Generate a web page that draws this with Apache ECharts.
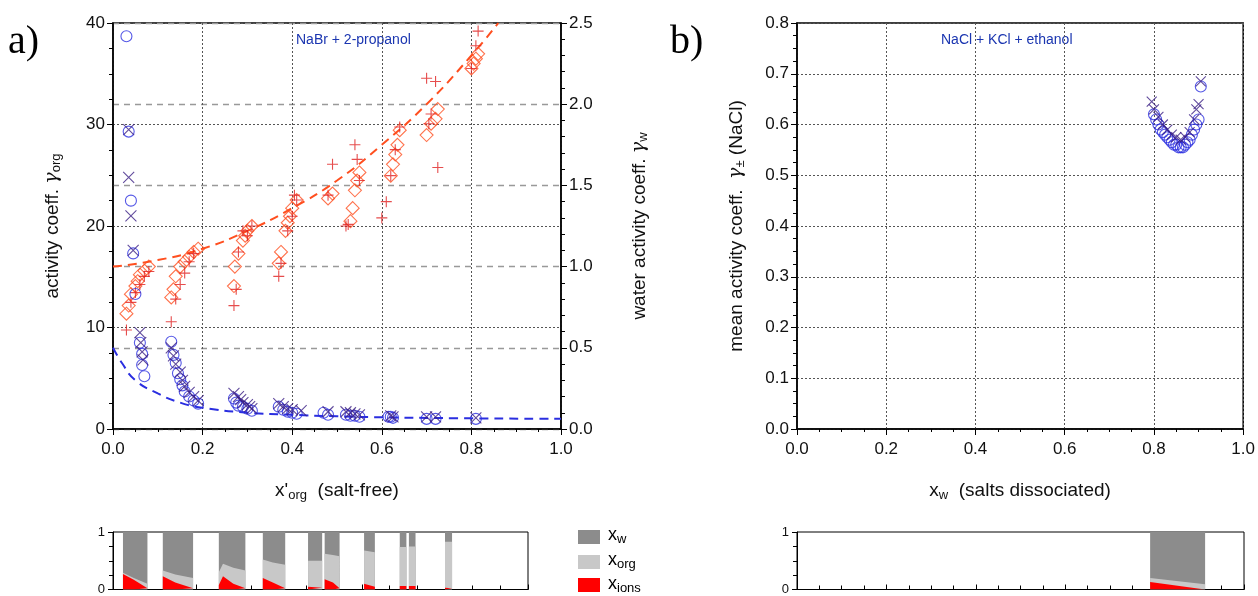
<!DOCTYPE html>
<html><head><meta charset="utf-8">
<script src="https://cdn.jsdelivr.net/npm/echarts@6/dist/echarts.min.js"></script>
<style>html,body{margin:0;padding:0;background:#fff}#c{width:1258px;height:596px}</style>
</head><body><div id="c"></div>
<script>
// ---------- data: panel a ----------
const orgCircles = [[0.03,38.7],[0.035,29.3],[0.04,22.5],[0.045,17.3],[0.05,13.3],[0.06,8.5],[0.065,7.4],[0.065,6.3],[0.07,5.2],
 [0.13,8.6],[0.135,7.3],[0.14,6.5],[0.145,5.5],[0.15,4.9],[0.155,4.3],[0.16,3.7],[0.17,3.2],[0.18,2.8],[0.19,2.5],
 [0.27,3.0],[0.275,2.6],[0.28,2.3],[0.29,2.2],[0.30,2.0],[0.31,1.8],[0.37,2.2],[0.38,1.9],[0.39,1.7],[0.40,1.6],[0.41,1.5],
 [0.47,1.6],[0.48,1.4],[0.52,1.4],[0.53,1.3],[0.54,1.3],[0.55,1.2],[0.615,1.2],[0.62,1.2],[0.625,1.1],[0.70,1.0],[0.72,1.0],[0.81,1.0]];
const orgCrosses = [[0.035,29.5],[0.035,24.8],[0.04,21],[0.045,17.6],[0.06,9.5],[0.062,8.5],[0.065,7.6],[0.067,6.8],
 [0.13,8],[0.135,7.2],[0.14,6.4],[0.15,5.6],[0.155,4.8],[0.16,4.2],[0.17,3.6],[0.18,3.2],[0.19,2.8],
 [0.27,3.5],[0.28,3.2],[0.285,2.9],[0.29,2.6],[0.30,2.4],[0.305,2.2],[0.31,2.0],[0.37,2.5],[0.38,2.2],[0.39,2.0],[0.40,1.9],[0.42,1.8],
 [0.48,1.7],[0.52,1.7],[0.53,1.6],[0.54,1.5],[0.55,1.4],[0.62,1.3],[0.625,1.2],[0.70,1.2],[0.72,1.2],[0.81,1.1]];
const wDiamonds = [[0.03,0.71],[0.035,0.76],[0.04,0.83],[0.05,0.88],[0.055,0.91],[0.06,0.95],[0.07,0.975],[0.08,1.0],
 [0.13,0.81],[0.135,0.86],[0.14,0.94],[0.15,1.0],[0.16,1.03],[0.17,1.06],[0.18,1.09],[0.19,1.11],
 [0.27,0.88],[0.272,1.0],[0.28,1.08],[0.29,1.16],[0.295,1.19],[0.30,1.22],[0.31,1.25],
 [0.37,1.02],[0.375,1.09],[0.385,1.22],[0.39,1.27],[0.395,1.31],[0.40,1.36],[0.41,1.41],
 [0.48,1.42],[0.49,1.45],[0.53,1.28],[0.535,1.36],[0.54,1.47],[0.545,1.53],[0.55,1.58],
 [0.62,1.56],[0.625,1.63],[0.63,1.69],[0.635,1.75],[0.64,1.84],[0.70,1.81],[0.71,1.88],[0.72,1.91],[0.725,1.97],
 [0.80,2.22],[0.805,2.25],[0.81,2.28],[0.815,2.31]];
const wPlus = [[0.03,0.61],[0.04,0.78],[0.05,0.84],[0.06,0.89],[0.07,0.94],[0.08,0.97],
 [0.13,0.66],[0.14,0.8],[0.15,0.89],[0.16,0.96],[0.17,1.03],[0.18,1.08],
 [0.27,0.76],[0.275,0.86],[0.28,1.09],[0.29,1.22],[0.30,1.19],[0.31,1.25],
 [0.37,0.94],[0.375,1.02],[0.39,1.22],[0.40,1.31],[0.41,1.41],[0.405,1.44],
 [0.48,1.44],[0.49,1.63],[0.52,1.25],[0.525,1.26],[0.54,1.75],[0.545,1.66],[0.55,1.53],
 [0.60,1.3],[0.61,1.4],[0.62,1.56],[0.63,1.72],[0.64,1.86],
 [0.70,2.16],[0.705,1.88],[0.71,1.94],[0.72,2.14],[0.725,1.61],[0.80,2.22],[0.81,2.36],[0.815,2.45]];
const orgCurve = [[0,8],[0.02,6.5],[0.05,4.8],[0.1,3.5],[0.15,2.6],[0.2,2.1],[0.3,1.6],[0.4,1.4],[0.5,1.25],[0.6,1.15],[0.8,1.05],[1,1.0]];
const wCurve = [[0,1.0],[0.1,1.04],[0.2,1.11],[0.3,1.22],[0.4,1.36],[0.5,1.53],[0.6,1.75],[0.7,2.0],[0.8,2.3],[0.86,2.5]];
// ---------- data: panel b ----------
const bCircles = [[0.80,0.62],[0.805,0.61],[0.81,0.60],[0.815,0.59],[0.82,0.585],[0.825,0.58],[0.83,0.575],[0.835,0.57],[0.84,0.565],
 [0.845,0.56],[0.85,0.56],[0.855,0.555],[0.86,0.555],[0.865,0.555],[0.87,0.56],[0.875,0.565],[0.88,0.57],[0.885,0.58],[0.89,0.59],[0.895,0.60],[0.90,0.61],[0.905,0.675]];
const bCrosses = [[0.795,0.645],[0.80,0.63],[0.81,0.615],[0.82,0.60],[0.83,0.59],[0.84,0.58],[0.85,0.575],[0.86,0.57],[0.87,0.575],
 [0.88,0.585],[0.89,0.61],[0.895,0.63],[0.90,0.64],[0.905,0.685]];
// ---------- composition strips: [x, x_ions, x_ions+x_org] ----------
const stripA = [
 [[0.024,0.27,0.29],[0.05,0.17,0.2],[0.083,0.02,0.1]],
 [[0.12,0.23,0.33],[0.15,0.12,0.26],[0.193,0.02,0.2]],
 [[0.255,0.08,0.3],[0.265,0.23,0.45],[0.29,0.1,0.38],[0.319,0.02,0.33]],
 [[0.361,0.2,0.52],[0.385,0.12,0.47],[0.415,0.02,0.43]],
 [[0.47,0.05,0.5],[0.504,0.03,0.5]],
 [[0.51,0.18,0.62],[0.53,0.12,0.6],[0.546,0.02,0.58]],
 [[0.605,0.1,0.68],[0.631,0.05,0.65]],
 [[0.691,0.06,0.74],[0.707,0.06,0.74]],
 [[0.713,0.06,0.75],[0.729,0.06,0.75]],
 [[0.80,0.03,0.83],[0.817,0.02,0.83]]];
const stripB = [[[0.79,0.13,0.2],[0.913,0.0,0.09]]];
const xTicks = [0,0.2,0.4,0.6,0.8,1.0];

function flat(groups, idx){ const out=[]; groups.forEach((g,i)=>{ if(i) out.push([ (g[0][0]+groups[i-1][groups[i-1].length-1][0])/2, null]); g.forEach(p=>out.push([p[0], idx<0?1:p[idx]])); }); return out; }

const axisLine={lineStyle:{color:'#000',width:1.5}};
const lab={color:'#111',fontSize:17,fontFamily:'Liberation Sans'};
const dotted={show:true,lineStyle:{color:'#555',type:[2,2],width:1}};
const X='path://M0,0L10,10M10,0L0,10', P='path://M5,0L5,10M0,5L10,5';
const BLUE='#2a2ee0', PURP='#3b1f85', ORG='#ff4f1f', RED='#e02020';
function sc(data,sym,size,color,xi,yi,z){return {type:'scatter',xAxisIndex:xi,yAxisIndex:yi,data,symbol:sym,symbolSize:size,z:z||3,
 itemStyle:{color:'transparent',borderColor:color,borderWidth:1.1},silent:true};}
function area(data,color,xi,yi,z){return {type:'line',xAxisIndex:xi,yAxisIndex:yi,data,symbol:'none',connectNulls:false,z,
 lineStyle:{width:0},areaStyle:{color,opacity:1},silent:true};}
const nameRich={s:{fontSize:13,padding:[8,0,0,0],fontFamily:'Liberation Sans',color:'#111'},g:{fontSize:19,fontFamily:'DejaVu Serif',fontStyle:'italic',color:'#111'}};

const opt={animation:false,
 grid:[{left:113,top:23,width:448,height:406,show:true,borderColor:'#000',borderWidth:1.5},
       {left:797,top:23,width:448,height:406,show:true,borderColor:'#000',borderWidth:1.5},
       {left:113,top:532,width:415,height:59,show:true,borderColor:'#000',borderWidth:1},
       {left:797,top:532,width:447,height:59,show:true,borderColor:'#000',borderWidth:1}],
 xAxis:[
  {gridIndex:0,type:'value',min:0,max:1,interval:0.2,axisLine,axisTick:{length:6},minorTick:{show:true,splitNumber:4,length:3},axisLabel:{...lab,formatter:v=>v.toFixed(1),margin:12},splitLine:dotted,
   name:'{t|x\'}{s|org}{t|  (salt-free)}',nameLocation:'middle',nameGap:50,nameTextStyle:{rich:{t:{fontSize:19,fontFamily:'Liberation Sans',color:'#111'},s:{fontSize:13,padding:[10,0,0,0],color:'#111'}}}},
  {gridIndex:1,type:'value',min:0,max:1,interval:0.2,axisLine,axisTick:{length:6},minorTick:{show:true,splitNumber:4,length:3},axisLabel:{...lab,formatter:v=>v.toFixed(1),margin:12},splitLine:dotted,
   name:'{t|x}{s|w}{t|  (salts dissociated)}',nameLocation:'middle',nameGap:50,nameTextStyle:{rich:{t:{fontSize:19,fontFamily:'Liberation Sans',color:'#111'},s:{fontSize:13,padding:[10,0,0,0],color:'#111'}}}},
  {gridIndex:2,type:'value',min:0,max:1,interval:0.2,position:'top',axisLine:{lineStyle:{color:'#000'}},axisTick:{length:5},minorTick:{show:true,splitNumber:3,length:4},axisLabel:{show:false},splitLine:{show:false}},
  {gridIndex:3,type:'value',min:0,max:1,interval:0.2,position:'top',axisLine:{lineStyle:{color:'#000'}},axisTick:{length:5},minorTick:{show:true,splitNumber:4,length:4},axisLabel:{show:false},splitLine:{show:false}}],
 yAxis:[
  {gridIndex:0,type:'value',min:0,max:40,interval:10,axisLine,axisTick:{length:6},minorTick:{show:true,splitNumber:4,length:4},axisLabel:lab,splitLine:dotted,
   name:'{t|activity coeff. }{g|γ}{s|org}',nameLocation:'middle',nameGap:50,nameTextStyle:{rich:{t:{fontSize:19,fontFamily:'Liberation Sans',color:'#111'},...nameRich}}},
  {gridIndex:0,type:'value',min:0,max:2.5,interval:0.5,position:'right',axisLine,axisTick:{length:6},minorTick:{show:true,splitNumber:5,length:4},axisLabel:{...lab,formatter:v=>v.toFixed(1)},
   splitLine:{show:true,lineStyle:{color:'#999',type:[6,5],width:1.3}},
   name:'{t|water activity coeff. }{g|γ}{s|w}',nameLocation:'middle',nameGap:68,nameRotate:90,nameTextStyle:{rich:{t:{fontSize:19,fontFamily:'Liberation Sans',color:'#111'},...nameRich}}},
  {gridIndex:1,type:'value',min:0,max:0.8,interval:0.1,axisLine,axisTick:{length:6},minorTick:{show:true,splitNumber:4,length:4},axisLabel:{...lab,formatter:v=>v.toFixed(1)},splitLine:dotted,
   name:'{t|mean activity coeff.  }{g|γ}{s|±}{t| (NaCl)}',nameLocation:'middle',nameGap:50,nameTextStyle:{rich:{t:{fontSize:19,fontFamily:'Liberation Sans',color:'#111'},...nameRich}}},
  {gridIndex:2,type:'value',min:0,max:1,interval:1,axisLine:{lineStyle:{color:'#000'}},axisTick:{length:5},minorTick:{show:true,splitNumber:4,length:4},axisLabel:{...lab,fontSize:13},splitLine:{show:false}},
  {gridIndex:3,type:'value',min:0,max:1,interval:1,axisLine:{lineStyle:{color:'#000'}},axisTick:{length:5},minorTick:{show:true,splitNumber:4,length:4},axisLabel:{...lab,fontSize:13},splitLine:{show:false}}],
 series:[
  {type:'line',xAxisIndex:0,yAxisIndex:0,data:orgCurve,smooth:true,symbol:'none',lineStyle:{color:BLUE,width:2,type:[9,6]},z:2},
  {type:'line',xAxisIndex:0,yAxisIndex:1,data:wCurve,smooth:true,symbol:'none',lineStyle:{color:ORG,width:2,type:[9,6]},z:2},
  sc(wDiamonds,'diamond',13,ORG,0,1),
  sc(wPlus,P,11,RED,0,1),
  sc(orgCircles,'circle',11,BLUE,0,0),
  sc(orgCrosses,X,11,PURP,0,0),
  sc(bCircles,'circle',11,BLUE,1,2),
  sc(bCrosses,X,10,PURP,1,2),
  area(flat(stripA,-1),'#8c8c8c',2,3,2), area(flat(stripA,2),'#c8c8c8',2,3,3), area(flat(stripA,1),'#ff0000',2,3,4),
  area(flat(stripB,-1),'#8c8c8c',3,4,2), area(flat(stripB,2),'#c8c8c8',3,4,3), area(flat(stripB,1),'#ff0000',3,4,4)],
 graphic:[
  {type:'text',left:8,top:22,style:{text:'a)',font:'40px "Liberation Serif"',fill:'#000'}},
  {type:'text',left:670,top:22,style:{text:'b)',font:'40px "Liberation Serif"',fill:'#000'}},
  {type:'text',left:296,top:33,style:{text:'NaBr + 2-propanol',font:'14px "Liberation Sans"',fill:'#1a35b0'}},
  {type:'text',left:941,top:33,style:{text:'NaCl + KCl + ethanol',font:'14px "Liberation Sans"',fill:'#1a35b0'}},
  {type:'rect',shape:{x:578,y:530,width:22,height:14},style:{fill:'#8c8c8c'}},
  {type:'rect',shape:{x:578,y:555,width:22,height:14},style:{fill:'#c8c8c8'}},
  {type:'rect',shape:{x:578,y:578,width:22,height:14},style:{fill:'#ff0000'}},
  {type:'text',left:608,top:526,style:{rich:{t:{fontSize:18,fontFamily:'Liberation Sans'},s:{fontSize:13,padding:[8,0,0,0]}},text:'{t|x}{s|w}',fill:'#000'}},
  {type:'text',left:608,top:551,style:{rich:{t:{fontSize:18,fontFamily:'Liberation Sans'},s:{fontSize:13,padding:[8,0,0,0]}},text:'{t|x}{s|org}',fill:'#000'}},
  {type:'text',left:608,top:575,style:{rich:{t:{fontSize:18,fontFamily:'Liberation Sans'},s:{fontSize:13,padding:[8,0,0,0]}},text:'{t|x}{s|ions}',fill:'#000'}}]
};
echarts.init(document.getElementById('c')).setOption(opt);
</script></body></html>
